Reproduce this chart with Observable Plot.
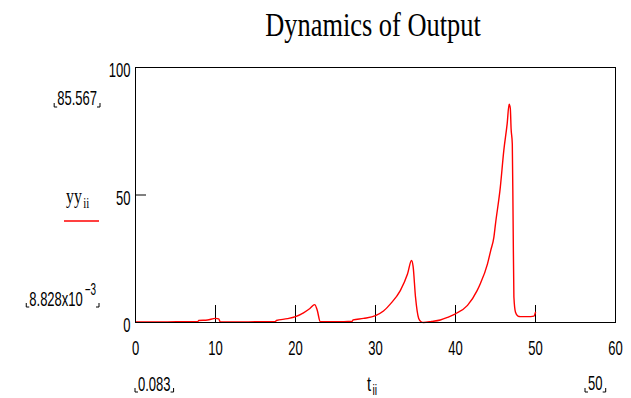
<!DOCTYPE html>
<html><head><meta charset="utf-8">
<script src="https://cdn.jsdelivr.net/npm/d3@7"></script>
<script src="https://cdn.jsdelivr.net/npm/@observablehq/plot@0.6"></script>
<style>
body{margin:0;background:#fff;}
#title{position:relative;height:50px;width:631px;overflow:visible;}
#title span{position:absolute;left:373px;top:9px;font-family:"Liberation Serif","Times New Roman",serif;font-size:33px;line-height:33px;white-space:nowrap;transform:translateX(-50%) scaleX(0.8);}
</style></head><body>
<div id="title"><span>Dynamics of Output</span></div>
<div id="chart"></div>
<script>
// time values t_ii
const t = [0.083, 2, 4, 6, 7.8, 7.9, 9, 10, 10.4, 10.6, 12, 15, 17.5, 17.6, 19, 20, 21, 21.8, 22.4, 22.7, 23.1,
  25, 27.1, 27.2, 28.5, 30, 31, 31.9, 33.1, 34, 34.5, 34.7, 35, 35.4, 35.7, 36, 37, 38.1, 39, 40,
  41.5, 42.7, 43.1, 44, 44.4, 44.8, 45, 45.6, 46.04, 46.46, 46.7, 46.85, 46.95, 47.1, 47.2, 47.3, 47.5, 47.8, 48.1, 49, 49.8, 50];
// output values yy_ii
const yy = [0.2, 0.2, 0.25, 0.3, 0.4, 0.8, 1.0, 1.6, 1.4, 0.2, 0.2, 0.3, 0.4, 0.8, 1.5, 2.3, 3.8, 5.5, 7.0, 5.0, 0.3,
  0.3, 0.5, 1.0, 1.6, 2.7, 4.5, 7.4, 12.5, 19, 24.3, 22, 10, 1.6, 0.3, 0.008828, 0.4, 1.0, 2.0, 3.4,
  6.7, 12.5, 15.2, 23, 28.2, 33.5, 38.7, 53, 67.5, 78, 85.567, 84, 76, 70, 40, 10, 4, 2.5, 2.3, 2.3, 2.5, 4];
const xTicks = [0, 10, 20, 30, 40, 50, 60];
const yTicks = [0, 50, 100];
const xInnerTicks = [10, 20, 30, 40, 50];
const yInnerTicks = [50];

const data = t.map((ti, i) => ({t: ti, yy: yy[i]}));
const sans = "'Liberation Sans', Arial, sans-serif";
const serif = "'Liberation Serif', 'Times New Roman', serif";

const plot = Plot.plot({
  width: 631, height: 348,
  marginTop: 17, marginLeft: 135, marginRight: 16, marginBottom: 76,
  x: {domain: [0, 60]},
  y: {domain: [0, 100]},
  style: {fontFamily: sans, fontSize: "21px", color: "#000", background: "#fff"},
  marks: [
    Plot.axisX({ticks: xTicks, tickSize: 0, tickPadding: 18, label: null, tickFormat: d => String(d)}),
    Plot.axisY({ticks: yTicks, tickSize: 0, tickPadding: 5, dy: 3, label: null, tickFormat: d => String(d)}),
    Plot.tickX(xInnerTicks, {stroke: "#000", insetTop: 238}),
    Plot.tickY(yInnerTicks, {stroke: "#000", insetRight: 469}),
    Plot.line(data, {x: "t", y: "yy", stroke: "#ff0000", strokeWidth: 1.4, curve: "monotone-x"}),
    Plot.frame({stroke: "#000", strokeWidth: 1})
  ]
});
document.getElementById("chart").appendChild(plot);

const svg = d3.select(plot);
const ann = svg.append("g");
// text squeezed horizontally by k, anchored at (x, y)
function txt(x, y, s, o = {}) {
  const k = o.k || 0.62;
  const g = ann.append("g").attr("transform", `translate(${x},${y}) scale(${k},1)`);
  const el = g.append("text").attr("x", 0).attr("y", 0)
    .attr("text-anchor", o.anchor || "start")
    .attr("font-family", o.family || sans)
    .attr("font-size", o.size || 21)
    .attr("fill", "#000");
  el.append("tspan").text(s);
  if (o.sub) el.append("tspan").attr("dy", o.subDy).attr("dx", o.subDx || 0).attr("font-size", o.subSize).text(o.sub);
  return g;
}
function brackets(g, yb) {
  const sr = plot.getBoundingClientRect();
  const b = g.node().getBoundingClientRect();
  const l = b.left - sr.left - 3, r = b.right - sr.left + 3;
  ann.append("path").attr("d", `M${l},${yb - 4}V${yb}H${l + 3}M${r},${yb - 4}V${yb}H${r - 3}`)
    .attr("fill", "none").attr("stroke", "#000").attr("stroke-width", 1);
}

// squeeze axis tick labels
svg.selectAll("g[aria-label='x-axis tick label'] text, g[aria-label='y-axis tick label'] text").each(function() {
  const L = this.getComputedTextLength();
  if (L > 0) { this.setAttribute("textLength", L * 0.62); this.setAttribute("lengthAdjust", "spacingAndGlyphs"); }
});

const fmt3 = d3.format(".3f");
const yMax = d3.max(yy), yMin = d3.min(yy);
const expo = Math.floor(Math.log10(yMin));
const mant = (yMin / Math.pow(10, expo)).toFixed(3);

// y range labels
const a1 = txt(97, 55, fmt3(yMax), {anchor: "end"});
brackets(a1, 57);

const m1 = txt(96, 256, mant + "x10", {anchor: "end", sub: "\u2212" + (-expo), subDy: -11, subDx: 3, subSize: 16});
brackets(m1, 257);

// legend
txt(66, 153, "yy", {family: serif, size: 22, k: 0.72, sub: "ii", subDy: 5, subDx: 2, subSize: 15});
ann.append("line").attr("x1", 64).attr("x2", 99).attr("y1", 171).attr("y2", 171)
  .attr("stroke", "#ff0000").attr("stroke-width", 1.4);

// x range labels
const b1 = txt(138, 341, String(t[0]));
brackets(b1, 342);
const b2 = txt(588, 340, String(t[t.length - 1]));
brackets(b2, 342);
txt(367, 341, "t", {size: 21, k: 0.7, sub: "ii", subDy: 4, subDx: 2, subSize: 15});
</script>
</body></html>
